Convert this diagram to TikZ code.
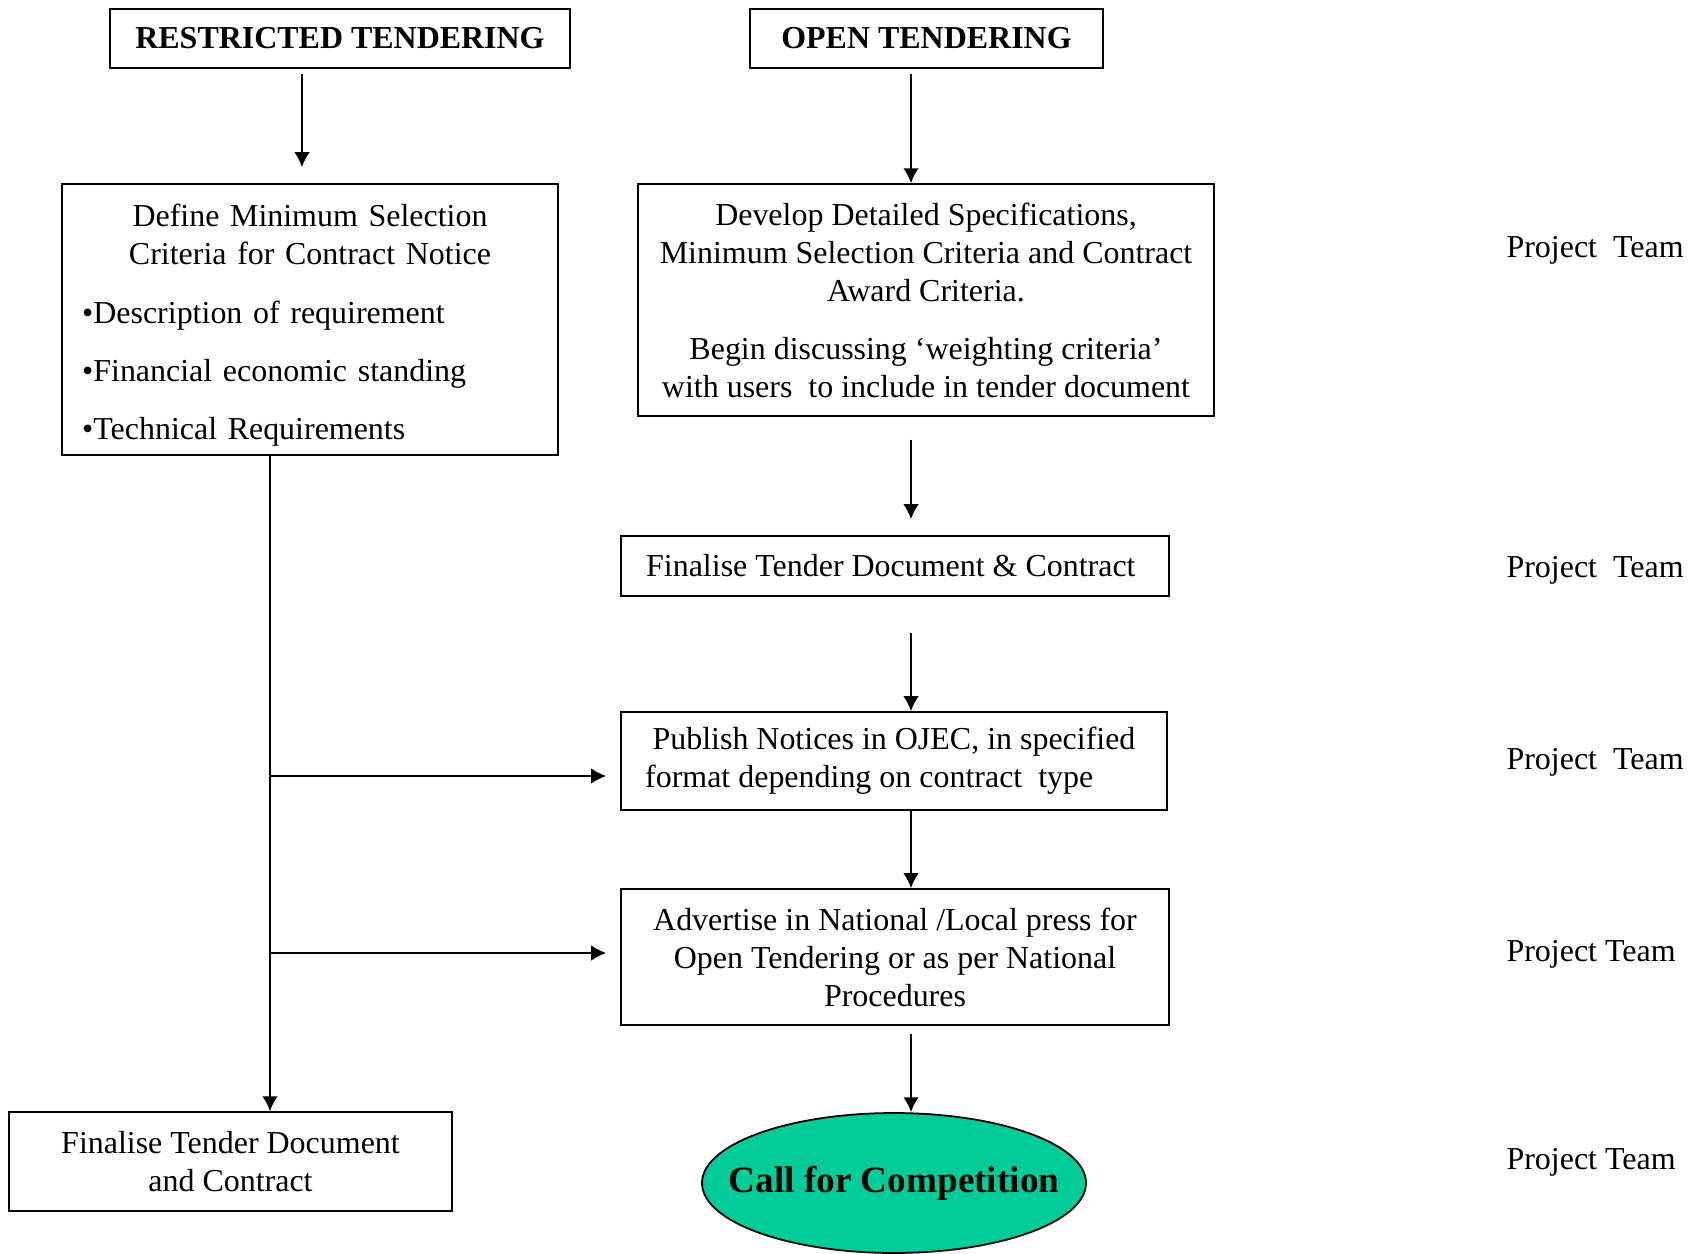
\documentclass[tikz,border=0pt]{standalone}
\usepackage{fontspec}
\setmainfont{Liberation Serif}
\usetikzlibrary{arrows.meta,shapes.geometric}
\definecolor{callgreen}{RGB}{0,204,153}

\begin{document}
\begin{tikzpicture}[
x=0.363pt,
y=-0.363pt,
font=\fontsize{11.6}{13.8}\selectfont,
stage/.style={
  draw,
  rectangle,
  line width=0.65pt,
  align=center,
  inner sep=0pt
  },
head/.style={
  stage,
  font=\fontsize{11.6}{13.8}\selectfont\bfseries
  },
goal/.style={
  draw,
  ellipse,
  fill=callgreen,
  line width=0.65pt,
  inner sep=0pt,
  font=\fontsize{13.5}{16}\selectfont\bfseries
  },
team/.style={
  anchor=west,
  inner sep=0pt
  },
link/.style={
  ->,
  line width=0.55pt
  },
>={Latex[length=5.4pt,width=5.6pt]}
]
\useasboundingbox (0,0) rectangle (1700,1254);

\node[head, minimum width=167pt, minimum height=21.4pt] (restricted) at (340,38.5) {RESTRICTED TENDERING};
\node[head, minimum width=128.1pt, minimum height=21.4pt] (open) at (926.5,38.5) {OPEN TENDERING};

\node[draw, line width=0.65pt, minimum width=180pt, minimum height=98.4pt, text width=165.4pt, inner xsep=7.3pt, inner ysep=0pt] (define) at (310,319.5)
  {{\centering \rule{0pt}{12.4pt}Define Minimum Selection\\Criteria for Contract Notice\par}
   \vspace{7.3pt}\raggedright
   \textbullet Description of requirement\par\vspace{7.3pt}
   \textbullet Financial economic standing\par\vspace{7.3pt}
   \textbullet Technical Requirements\par};
\node[stage, minimum width=209pt, minimum height=84.2pt] (develop) at (926,300)
  {Develop Detailed Specifications,\\Minimum Selection Criteria and Contract\\Award Criteria.\\[7.3pt]Begin discussing ‘weighting criteria’\\with users\ \ to include in tender document};
\node[stage, minimum width=198.9pt, minimum height=21.8pt] (finalise) at (895,566) {Finalise Tender Document \& Contract\hspace*{3pt}};
\node[stage, minimum width=198.2pt, minimum height=35.6pt] (publish) at (894,761)
  {Publish Notices in OJEC, in specified\\format depending on contract\ \ type\hspace*{18pt}};
\node[stage, minimum width=198.9pt, minimum height=49.4pt] (advertise) at (895,957)
  {Advertise in National /Local press for\\Open Tendering or as per National\\Procedures};
\node[goal, minimum width=139.4pt, minimum height=50.8pt] (call) at (894,1183) {\makebox[0pt]{Call for Competition}};
\node[stage, minimum width=160.8pt, minimum height=35.9pt] (tenderdoc) at (230.5,1161.5) {Finalise Tender Document\\and Contract};

% who does it
\foreach \ty [count=\ti] in {250,570,762}
  \node[team] (team\ti) at (1506,\ty) {Project\ \ Team};
\node[team] (team4) at (1506,954) {Project Team};
\node[team] (team5) at (1506,1162) {Project Team};

\coordinate (lx) at (302,0);
\coordinate (mx) at (911,0);
\coordinate (tx) at (270,0);
\coordinate (j1) at (270,776);
\coordinate (j2) at (270,953);

\draw[link, shorten <=1.8pt, shorten >=5.8pt] (restricted.south -| lx) -- (define.north -| lx);
\draw[link, shorten <=1.8pt] (open.south -| mx) -- (develop.north -| mx);
\draw[link, shorten <=8.3pt, shorten >=5.8pt] (develop.south -| mx) -- (finalise.north -| mx);
\draw[link, shorten <=13pt] (finalise.south -| mx) -- (publish.north -| mx);
\draw[link] (publish.south -| mx) -- (advertise.north -| mx);
\draw[link, shorten <=2.9pt] (advertise.south -| mx) -- (call.north -| mx);
\draw[link] (define.south -| tx) -- (tenderdoc.north -| tx);
\draw[link, shorten >=5.1pt] (j1) -- (j1 -| publish.west);
\draw[link, shorten >=5.1pt] (j2) -- (j2 -| advertise.west);
\end{tikzpicture}
\end{document}
